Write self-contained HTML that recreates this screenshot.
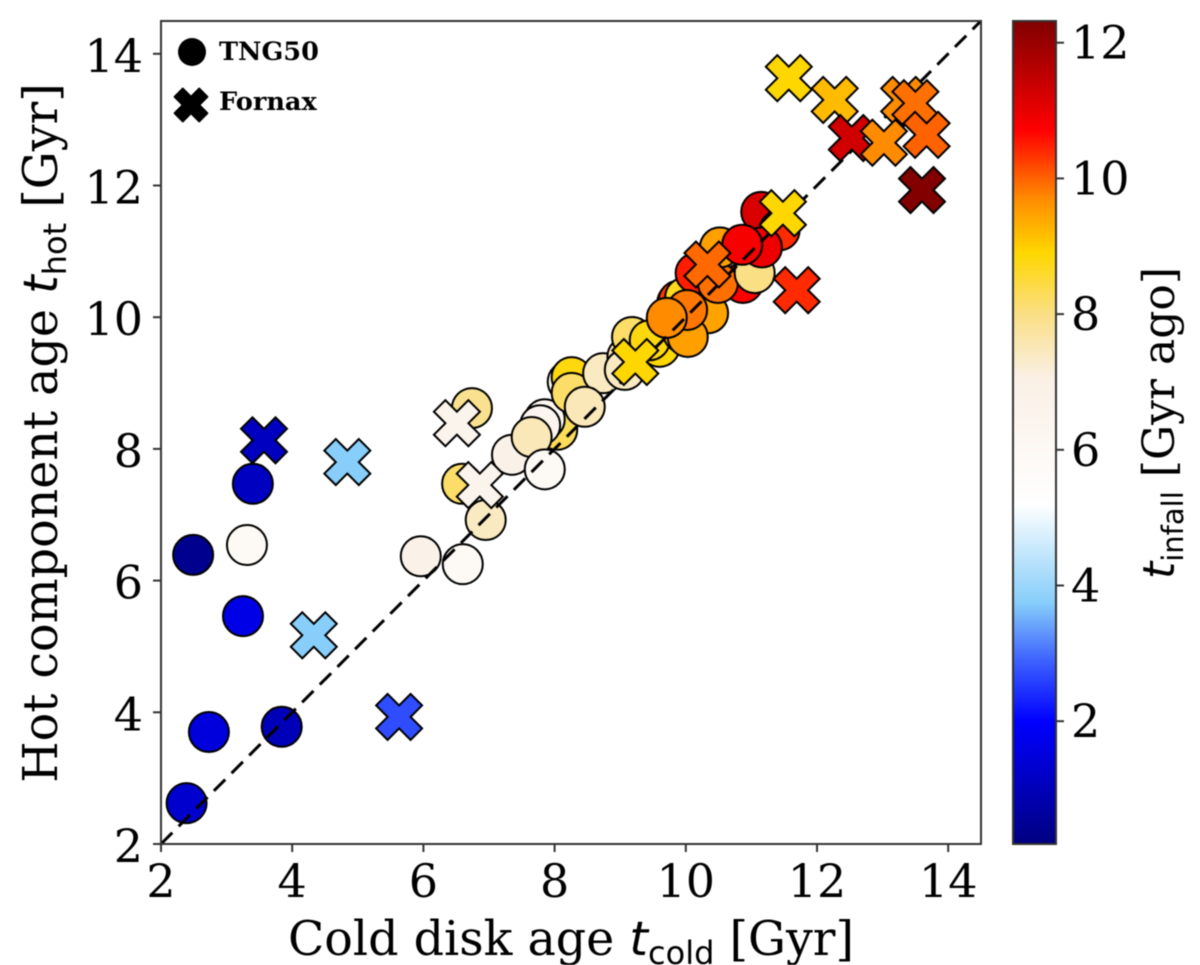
<!DOCTYPE html>
<html>
<head>
<meta charset="utf-8">
<title>Cold disk age vs hot component age</title>
<style>
html,body{margin:0;padding:0;background:#fff;}
svg{display:block;filter:blur(0.5px);}
text{font-family:"DejaVu Serif","Liberation Serif",serif;fill:#000;}
.sub,.mt{font-family:"DejaVu Sans","Liberation Sans",sans-serif;}
</style>
</head>
<body>
<svg id="chart" xmlns="http://www.w3.org/2000/svg" width="1200" height="965" viewBox="0 0 1200 965">
  <defs>
    <linearGradient id="cbar-gradient" x1="0" y1="1" x2="0" y2="0"></linearGradient>
    <clipPath id="plot-clip"><rect x="161" y="21" width="820" height="823"></rect></clipPath>
  </defs>
  <rect x="0" y="0" width="1200" height="965" fill="#fff"></rect>
  <g id="circles" clip-path="url(#plot-clip)"></g>
  <line id="identity" stroke="#000" stroke-width="3" stroke-dasharray="16 9"></line>
  <g id="crosses"></g>
  <rect x="161" y="21" width="820" height="823" fill="none" stroke="#333" stroke-width="2"></rect>
  <g id="x-axis"></g>
  <g id="y-axis"></g>

  <text x="571" y="955" text-anchor="middle" font-size="47.5">Cold disk age <tspan class="mt" font-style="italic">t</tspan><tspan class="sub" font-size="32" dy="9">cold</tspan><tspan dy="-9"> [Gyr]</tspan></text>
  <text transform="translate(57,433) rotate(-90)" text-anchor="middle" font-size="47.5">Hot component age <tspan class="mt" font-style="italic">t</tspan><tspan class="sub" font-size="32" dy="9">hot</tspan><tspan dy="-9"> [Gyr]</tspan></text>

  <g>
    <circle cx="192" cy="52" r="14" fill="#000"></circle>
    <text x="219" y="60" font-size="25.6" font-weight="700">TNG50</text>
    <path id="legend-cross" fill="#000" stroke="#000" stroke-width="2" stroke-linejoin="round"></path>
    <text x="219" y="110" font-size="25.6" font-weight="700">Fornax</text>
  </g>

  <rect x="1013" y="21" width="43" height="823" fill="url(#cbar-gradient)" stroke="#333" stroke-width="2"></rect>
  <g id="cbar-axis"></g>
  <text transform="translate(1174,423) rotate(-90)" text-anchor="middle" font-size="44"><tspan class="mt" font-style="italic">t</tspan><tspan class="sub" font-size="29" dy="9">infall</tspan><tspan dy="-9"> [Gyr ago]</tspan></text>
</svg>

<script>
// TNG50 points, listed back to front
const tngCold = [2.39,2.73,3.84,3.25,2.49,3.31,3.40,6.59,6.74,5.96,6.60,6.95,8.04,7.85,7.78,7.35,7.65,7.85,8.20,8.26,8.26,8.74,8.46,9.11,9.07,9.18,9.60,9.45,9.87,9.89,9.99,10.15,10.87,10.34,10.49,9.96,10.03,10.02,9.71,11.15,11.43,11.05,10.52,11.16,10.86];
const tngHot  = [2.62,3.70,3.78,5.46,6.39,6.54,7.47,7.47,8.62,6.37,6.25,6.92,8.29,8.45,8.36,7.91,8.18,7.69,9.02,9.09,8.85,9.15,8.64,9.40,9.20,9.70,9.55,9.65,10.22,10.25,10.30,10.67,10.52,10.06,10.52,9.76,9.70,10.11,9.99,11.60,11.32,10.67,11.06,11.06,11.10];
const tngInfall = [1.3,1.5,1.0,1.65,0.4,6.0,1.1,8.2,7.9,6.9,6.0,7.4,8.3,6.2,6.4,6.9,7.5,6.0,6.2,8.8,8.2,7.4,7.5,7.5,7.4,8.2,8.9,8.8,10.6,10.3,8.7,10.5,10.7,9.45,9.9,9.5,9.5,9.85,9.7,11.2,10.4,8.0,9.5,10.9,10.8];
// Fornax points, listed back to front
const fornaxCold = [3.57,4.84,4.33,5.63,6.51,6.86,9.23,10.33,11.48,11.69,11.57,12.27,12.53,13.33,13.50,13.02,13.67,13.60];
const fornaxHot  = [8.13,7.80,5.17,3.93,8.39,7.45,9.32,10.80,11.58,10.41,13.63,13.30,12.72,13.30,13.25,12.65,12.77,11.93];
const fornaxInfall = [1.1,3.75,3.75,2.7,6.6,6.6,8.9,9.95,8.9,10.4,8.9,9.2,11.3,9.7,9.9,9.7,10.0,12.3];
// Tick labels
const xTicks = [2,4,6,8,10,12,14];
const yTicks = [2,4,6,8,10,12,14];
const cbarTicks = [2,4,6,8,10,12];
// Axis limits
const xDomain = [2,14.5];
const yDomain = [2,14.5];
const cbarDomain = [0.19,12.32];
// Colormap anchors
const cmapValues = [0.19,2.0,2.9,3.75,5.2,7.05,8.0,8.9,9.7,10.7,12.32];
const cmapColors = ['#000080','#0000ff','#3d63ff','#87cefa','#ffffff','#faf0e6','#fadf85','#ffd700','#ff8c00','#ff0000','#800000'];

const NS = 'http://www.w3.org/2000/svg';
function xScale(v){return 161+(v-xDomain[0])*65.6;}
function yScale(v){return 844-(v-yDomain[0])*65.85;}
function cbarScale(v){return 844-(v-cbarDomain[0])*(823/(cbarDomain[1]-cbarDomain[0]));}
function hexToRgb(h){return [1,3,5].map(function(i){return parseInt(h.substr(i,2),16);});}
function colorFor(v){
  if(v<=cmapValues[0])return cmapColors[0];
  for(let i=1;i<cmapValues.length;i++){
    if(v<=cmapValues[i]){
      const f=(v-cmapValues[i-1])/(cmapValues[i]-cmapValues[i-1]);
      const a=hexToRgb(cmapColors[i-1]),b=hexToRgb(cmapColors[i]);
      return 'rgb('+a.map(function(c,k){return Math.round(c+(b[k]-c)*f);}).join(',')+')';
    }
  }
  return cmapColors[cmapColors.length-1];
}
function crossPath(cx,cy,u){
  const pts=[[-1,-2],[0,-1],[1,-2],[2,-1],[1,0],[2,1],[1,2],[0,1],[-1,2],[-2,1],[-1,0],[-2,-1]];
  return 'M'+pts.map(function(p){return (cx+p[0]*u).toFixed(1)+' '+(cy+p[1]*u).toFixed(1);}).join('L')+'Z';
}
function make(tag,parent,attrs){
  const el=document.createElementNS(NS,tag);
  for(const k in attrs)el.setAttribute(k,attrs[k]);
  parent.appendChild(el);
  return el;
}

const circleLayer=document.getElementById('circles');
tngCold.forEach(function(c,i){
  const el=make('circle',circleLayer,{cx:xScale(c),cy:yScale(tngHot[i]),r:20,fill:colorFor(tngInfall[i]),stroke:'#000','stroke-width':2});
  
  
});

const crossLayer=document.getElementById('crosses');
fornaxCold.forEach(function(c,i){
  const el=make('path',crossLayer,{d:crossPath(xScale(c),yScale(fornaxHot[i]),11.5),fill:colorFor(fornaxInfall[i]),stroke:'#000','stroke-width':2,'stroke-linejoin':'miter'});
  
  
});

const identity=document.getElementById('identity');
identity.setAttribute('x1',xScale(xDomain[0]));
identity.setAttribute('y1',yScale(yDomain[0]));
identity.setAttribute('x2',xScale(xDomain[1]));
identity.setAttribute('y2',yScale(yDomain[1]));

const xAxis=document.getElementById('x-axis');
xTicks.forEach(function(t){
  const x=xScale(t);
  const tick=make('line',xAxis,{x1:x,x2:x,y1:844,y2:852,stroke:'#333','stroke-width':2});
  
  
  const lab=make('text',xAxis,{x:x,y:897,'text-anchor':'middle','font-size':46});
  lab.textContent=t;
  
  
});

const yAxis=document.getElementById('y-axis');
yTicks.forEach(function(t){
  const y=yScale(t);
  const tick=make('line',yAxis,{x1:153,x2:161,y1:y,y2:y,stroke:'#333','stroke-width':2});
  
  
  const lab=make('text',yAxis,{x:143,y:y+18,'text-anchor':'end','font-size':46});
  lab.textContent=t;
  
  
});

const cbarAxis=document.getElementById('cbar-axis');
cbarTicks.forEach(function(t){
  const y=cbarScale(t);
  const tick=make('line',cbarAxis,{x1:1056,x2:1064,y1:y,y2:y,stroke:'#333','stroke-width':2});
  
  
  const lab=make('text',cbarAxis,{x:1071,y:y+16,'font-size':46});
  lab.textContent=t;
  
  
});

const gradient=document.getElementById('cbar-gradient');
cmapValues.forEach(function(v,i){
  make('stop',gradient,{offset:(v-cbarDomain[0])/(cbarDomain[1]-cbarDomain[0]),'stop-color':cmapColors[i]});
});

document.getElementById('legend-cross').setAttribute('d',crossPath(191,105,8.2));
</script>
</body>
</html>
